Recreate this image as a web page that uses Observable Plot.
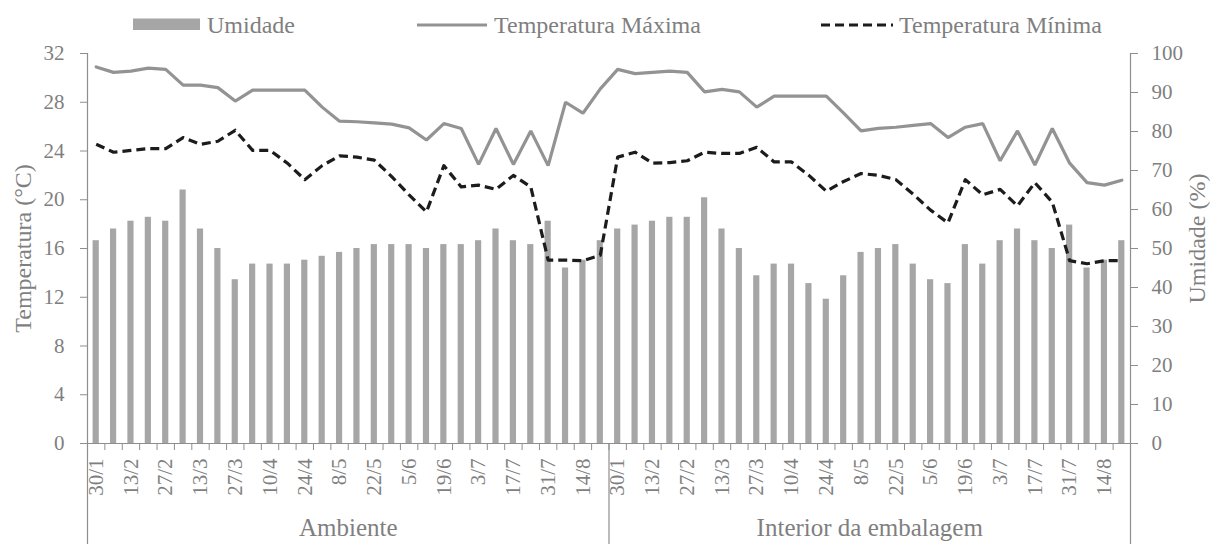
<!DOCTYPE html>
<html><head><meta charset="utf-8">
<script src="https://cdn.jsdelivr.net/npm/d3@7"></script>
<script src="https://cdn.jsdelivr.net/npm/@observablehq/plot@0.6"></script>
<style>body{margin:0;background:#fff;} #chart{width:1210px;} #chart svg, #chart svg text{font-family:"Liberation Serif","DejaVu Serif",serif !important;}</style>
</head><body><div id="chart"></div>
<script>
const dates = ["30/1","6/2","13/2","20/2","27/2","6/3","13/3","20/3","27/3","3/4","10/4","17/4","24/4","1/5","8/5","15/5","22/5","29/5","5/6","12/6","19/6","26/6","3/7","10/7","17/7","24/7","31/7","7/8","14/8","21/8"];
const groups = ["Ambiente","Interior da embalagem"];
const humAmbiente = [52,55,57,58,57,65,55,50,42,46,46,46,47,48,49,50,51,51,51,50,51,51,52,55,52,51,57,45,47,52];
const humInterior = [55,56,57,58,58,63,55,50,43,46,46,41,37,43,49,50,51,46,42,41,51,46,52,55,52,50,56,45,47,52];
const tmaxAmbiente = [30.9,30.45,30.55,30.8,30.7,29.4,29.4,29.2,28.1,29.0,29.0,29.0,29.0,27.6,26.45,26.4,26.3,26.2,25.9,24.9,26.25,25.85,22.9,25.85,22.9,25.65,22.8,28.0,27.1,29.1];
const tminAmbiente = [24.55,23.9,24.05,24.2,24.2,25.1,24.55,24.8,25.7,24.05,24.05,23.0,21.65,22.8,23.6,23.5,23.25,21.9,20.4,19.0,22.8,21.05,21.2,20.85,22.0,21.05,15.05,15.05,15.0,15.45];
const tmaxInterior = [30.7,30.35,30.45,30.55,30.45,28.85,29.05,28.85,27.6,28.5,28.5,28.5,28.5,27.1,25.65,25.85,25.95,26.1,26.25,25.1,25.95,26.25,23.2,25.65,22.85,25.85,23.0,21.4,21.2,21.6];
const tminInterior = [23.5,23.9,23.0,23.05,23.2,23.9,23.8,23.8,24.3,23.1,23.1,22.0,20.7,21.5,22.15,22.0,21.65,20.45,19.15,18.1,21.65,20.4,20.85,19.5,21.4,19.8,15.0,14.75,15.0,15.0];
const tempTicks = [0,4,8,12,16,20,24,28,32];
const humTicks = [0,10,20,30,40,50,60,70,80,90,100];
const legendLabels = ["Umidade","Temperatura Máxima","Temperatura Mínima"];
const yTitleLeft = "Temperatura (°C)";
const yTitleRight = "Umidade (%)";

const humScale = 32/100;
const series = {
  "Ambiente": {hum: humAmbiente, tmax: tmaxAmbiente, tmin: tminAmbiente},
  "Interior da embalagem": {hum: humInterior, tmax: tmaxInterior, tmin: tminInterior}
};
const rows = [];
groups.forEach(g => dates.forEach((d, i) => rows.push({
  key: g + "|" + d, group: g, date: d, idx: i,
  hum: series[g].hum[i], tmax: series[g].tmax[i], tmin: series[g].tmin[i]
})));
const keys = rows.map(r => r.key);

const W = 1210, H = 504, mL = 87, mR = 80, mT = 13, mB = 101;
const bw = (W - mL - mR) / keys.length;
const plotH = H - mT - mB;
const textColor = "#7f7f7f", axisColor = "#8e8e8e";
const barColor = "#a6a6a6", maxColor = "#939393", minColor = "#1c1c1c";
const font = "\"Liberation Serif\", \"DejaVu Serif\", serif";

// Legend (above the SVG)
const legend = d3.create("svg").attr("width", W).attr("height", 40).style("display", "block");
legend.append("rect").attr("x", 133).attr("y", 18.5).attr("width", 67).attr("height", 11.5).attr("fill", barColor);
legend.append("line").attr("x1", 417).attr("x2", 487).attr("y1", 25).attr("y2", 25)
  .attr("stroke", maxColor).attr("stroke-width", 3.2);
legend.append("line").attr("x1", 821).attr("x2", 893).attr("y1", 25).attr("y2", 25)
  .attr("stroke", minColor).attr("stroke-width", 3.2).attr("stroke-dasharray", "9,5");
[[207, legendLabels[0]], [494, legendLabels[1]], [899, legendLabels[2]]].forEach(([x, t]) => {
  legend.append("text").attr("x", x).attr("y", 25).attr("dy", "0.35em")
    .attr("fill", textColor).attr("font-size", 24).text(t);
});

const groupLabels = [{key: keys[14], label: groups[0]}, {key: keys[44], label: groups[1]}];

const plot = Plot.plot({
  width: W, height: H,
  marginLeft: mL, marginRight: mR, marginTop: mT, marginBottom: mB,
  style: {fontFamily: font, color: textColor, background: "#fff", overflow: "visible"},
  x: {type: "band", domain: keys, padding: 0, align: 0.5, round: false, axis: null},
  y: {domain: [0, 32], axis: null},
  marks: [
    Plot.barY(rows, {x: "key", y: d => d.hum * humScale, fill: barColor, insetLeft: 5.6, insetRight: 5.6}),
    Plot.ruleY([0], {stroke: axisColor, strokeWidth: 1.2}),
    // vertical frame / group separator lines
    Plot.ruleX([keys[0], keys[30]], {x: d => d, dx: -bw / 2, stroke: axisColor, strokeWidth: 1.2, insetTop: plotH, insetBottom: -mB}),
    Plot.ruleX([keys[0]], {x: d => d, dx: -bw / 2, stroke: axisColor, strokeWidth: 1.2, insetBottom: 0}),
    Plot.ruleX([keys[keys.length - 1]], {x: d => d, dx: bw / 2, stroke: axisColor, strokeWidth: 1.2, insetBottom: -mB}),
    // left axis
    Plot.axisY({anchor: "left", ticks: tempTicks, tickSize: 7, tickPadding: 16, fontSize: 21,
      stroke: axisColor, fill: textColor, label: null}),
    // right axis (humidity mapped to temperature scale)
    Plot.axisY({anchor: "right", ticks: humTicks.map(v => v * humScale), tickFormat: v => Math.round(v / humScale),
      tickSize: 7, tickPadding: 14, fontSize: 21, stroke: axisColor, fill: textColor, label: null}),
    // x ticks at category boundaries
    Plot.axisX({ticks: keys, tickFormat: () => "", tickSize: 7, dx: -bw / 2, stroke: axisColor, label: null}),
    // x tick labels
    Plot.axisX({ticks: keys.filter((k, i) => i % 2 === 0), tickFormat: k => k.split("|")[1],
      tickRotate: -90, tickSize: 0, tickPadding: 15, fontSize: 21, fill: textColor, label: null}),
    // lines
    Plot.line(rows, {x: "key", y: "tmax", stroke: maxColor, strokeWidth: 3.2, strokeLinejoin: "miter"}),
    Plot.line(rows, {x: "key", y: "tmin", stroke: minColor, strokeWidth: 3.2, strokeDasharray: "9,5", strokeLinecap: "butt"}),
    // axis titles
    Plot.text([yTitleLeft], {frameAnchor: "left", textAnchor: "middle", rotate: -90, dx: -64, fontSize: 24, fill: textColor}),
    Plot.text([yTitleRight], {frameAnchor: "right", textAnchor: "middle", rotate: -90, dx: 67, dy: -10, fontSize: 24, fill: textColor}),
    // group labels
    Plot.text(groupLabels, {x: "key", text: "label", dx: bw / 2, frameAnchor: "bottom", dy: 92, fontSize: 25, fill: textColor})
  ]
});

const chart = document.getElementById("chart");
chart.appendChild(legend.node());
chart.appendChild(plot);
</script>
</body></html>
